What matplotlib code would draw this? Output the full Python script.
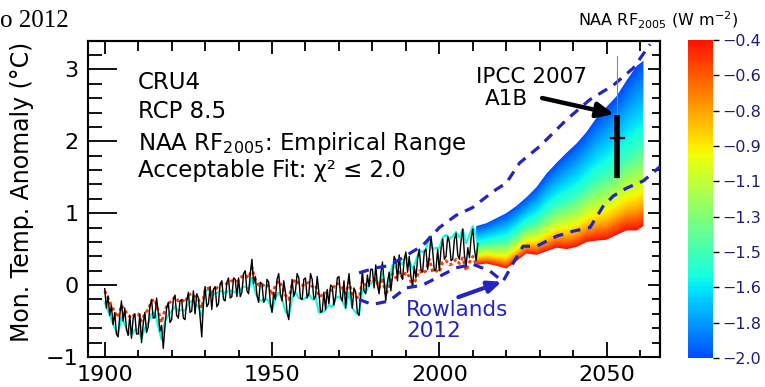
import numpy as np
import matplotlib
matplotlib.use("Agg")
import matplotlib.pyplot as plt
from matplotlib.colors import ListedColormap, Normalize
from matplotlib.patches import Polygon
from matplotlib.cm import ScalarMappable

plt.rcParams['font.family'] = ['DejaVu Sans']

# ---------------- data ----------------
# CRU4 monthly anomaly, sampled twice a year 1900.0 ... 2011.5
cru4_anom = [
    -0.05, -0.32, -0.15, -0.42, -0.28, -0.55, -0.38, -0.68, -0.72, -0.42, -0.22, -0.50, -0.32, -0.62, -0.70, -0.42, -0.74, -0.46, -0.40, -0.68,
    -0.68, -0.40, -0.80, -0.54, -0.38, -0.66, -0.58, -0.30, -0.20, -0.46, -0.45, -0.18, -0.38, -0.64, -0.56, -0.88, -0.58, -0.32, -0.24, -0.52,
    -0.48, -0.20, -0.14, -0.42, -0.46, -0.22, -0.20, -0.46, -0.48, -0.22, -0.10, -0.38, -0.36, -0.08, -0.40, -0.12, -0.18, -0.44, -0.72, -0.24,
    -0.02, -0.30, -0.26, -0.02, -0.34, -0.06, -0.02, -0.30, -0.26, 0.02, 0.06, -0.20, -0.22, 0.04, 0.10, -0.18, -0.16, 0.10, 0.08, -0.16,
    0.10, -0.16, -0.10, 0.16, 0.20, -0.08, -0.12, 0.16, 0.36, 0.02, 0.12, -0.14, -0.24, 0.04, 0.02, -0.24, -0.20, 0.08, 0.04, -0.24,
    -0.38, -0.10, -0.20, 0.08, 0.16, -0.12, -0.22, 0.06, -0.10, -0.38, -0.48, -0.16, 0.08, -0.16, -0.08, 0.16, 0.10, -0.18, -0.20, 0.08,
    0.10, -0.18, -0.12, 0.16, 0.08, -0.20, -0.16, 0.12, -0.10, -0.38, -0.36, -0.10, -0.34, -0.06, -0.26, 0.00, -0.02, -0.28, -0.16, 0.10,
    0.12, -0.16, -0.22, 0.06, -0.32, -0.04, 0.16, -0.10, -0.32, -0.04, -0.10, -0.38, -0.42, -0.12, 0.20, -0.08, -0.12, 0.14, -0.02, 0.22,
    0.22, -0.04, 0.28, 0.00, -0.12, 0.16, 0.32, 0.04, -0.22, 0.04, 0.18, -0.08, 0.12, 0.40, 0.34, 0.06, 0.42, 0.16, 0.08, 0.36,
    0.46, 0.18, 0.40, 0.12, -0.02, 0.26, 0.10, 0.36, 0.50, 0.22, 0.18, 0.46, 0.50, 0.22, 0.40, 0.68, 0.48, 0.20, 0.22, 0.50,
    0.20, 0.50, 0.64, 0.36, 0.40, 0.68, 0.60, 0.34, 0.36, 0.64, 0.72, 0.42, 0.36, 0.62, 0.78, 0.42, 0.26, 0.52, 0.38, 0.66,
    0.78, 0.50, 0.34, 0.58,
]
cru4_years = np.arange(1900, 2012, 0.5)

# model fits (yearly 1900 ... 2011)
fit_years = np.arange(1900, 2012)
fit_rf04 = [
    -0.08, -0.18, -0.28, -0.38, -0.45, -0.28, -0.35, -0.42, -0.46, -0.40,
    -0.40, -0.50, -0.40, -0.34, -0.22, -0.20, -0.36, -0.52, -0.34, -0.26,
    -0.22, -0.16, -0.22, -0.20, -0.24, -0.14, -0.12, -0.16, -0.20, -0.32,
    -0.06, -0.04, -0.10, -0.06, -0.02, 0.02, 0.00, 0.05, 0.06, 0.05,
    0.06, 0.12, 0.14, 0.10, 0.24, 0.08, 0.00, -0.02, 0.02, -0.02,
    -0.14, 0.00, 0.06, -0.02, -0.14, -0.20, 0.02, 0.08, 0.02, 0.00,
    0.00, 0.04, -0.02, 0.00, -0.16, -0.14, -0.12, -0.06, -0.08, 0.02,
    0.02, -0.04, -0.12, 0.04, -0.12, -0.16, -0.18, 0.06, 0.00, 0.06,
    0.04, 0.08, -0.04, 0.10, -0.14, -0.02, 0.16, 0.10, 0.18, 0.10,
    0.18, 0.12, -0.02, 0.08, 0.20, 0.16, 0.20, 0.36, 0.18, 0.20,
    0.18, 0.32, 0.34, 0.28, 0.30, 0.36, 0.30, 0.38, 0.20, 0.32,
    0.40, 0.28,
]
fit_rf16 = [
    -0.24, -0.36, -0.48, -0.60, -0.68, -0.44, -0.55, -0.64, -0.70, -0.62,
    -0.62, -0.74, -0.60, -0.52, -0.40, -0.38, -0.58, -0.76, -0.50, -0.42,
    -0.36, -0.30, -0.36, -0.34, -0.36, -0.26, -0.22, -0.26, -0.30, -0.44,
    -0.08, -0.06, -0.14, -0.12, -0.10, -0.08, -0.12, -0.08, -0.08, -0.10,
    -0.10, -0.04, -0.02, -0.06, 0.10, -0.10, -0.20, -0.22, -0.18, -0.22,
    -0.36, -0.18, -0.10, -0.20, -0.36, -0.44, -0.18, -0.10, -0.18, -0.20,
    -0.18, -0.12, -0.20, -0.16, -0.38, -0.38, -0.34, -0.28, -0.30, -0.18,
    -0.16, -0.22, -0.32, -0.10, -0.32, -0.38, -0.42, -0.06, -0.10, 0.00,
    0.04, 0.10, -0.02, 0.16, -0.06, 0.06, 0.28, 0.24, 0.34, 0.28,
    0.40, 0.34, 0.22, 0.34, 0.48, 0.46, 0.50, 0.68, 0.50, 0.52,
    0.52, 0.66, 0.70, 0.64, 0.68, 0.74, 0.66, 0.78, 0.58, 0.70,
    0.82, 0.66,
]

# projections for several NAA RF2005 values
proj_years = [2011, 2014, 2017, 2020, 2023, 2026, 2029, 2032, 2035, 2038, 2041, 2044, 2047, 2050, 2053, 2056, 2059, 2061]
proj_rf04 = [0.28, 0.30, 0.27, 0.23, 0.33, 0.44, 0.42, 0.47, 0.52, 0.50, 0.53, 0.60, 0.62, 0.63, 0.70, 0.76, 0.76, 0.82]
proj_rf08 = [0.36, 0.38, 0.36, 0.34, 0.44, 0.55, 0.55, 0.62, 0.69, 0.69, 0.73, 0.81, 0.86, 0.89, 0.97, 1.05, 1.08, 1.14]
proj_rf11 = [0.43, 0.46, 0.45, 0.45, 0.55, 0.66, 0.68, 0.77, 0.85, 0.88, 0.93, 1.03, 1.10, 1.15, 1.24, 1.35, 1.40, 1.46]
proj_rf15 = [0.55, 0.58, 0.60, 0.62, 0.72, 0.83, 0.89, 1.01, 1.11, 1.17, 1.25, 1.37, 1.48, 1.56, 1.67, 1.81, 1.91, 1.97]
proj_rf20 = [0.82, 0.86, 0.93, 1.00, 1.10, 1.22, 1.36, 1.55, 1.70, 1.84, 1.97, 2.13, 2.33, 2.48, 2.63, 2.85, 3.05, 3.12]
proj_rf_levels = [-0.4, -0.8, -1.1, -1.5, -2.0]

# Rowlands 2012 envelope
rowl_up_years = [1976, 1981, 1985, 1989, 1995, 2000, 2005, 2010, 2016, 2020, 2024, 2030, 2038, 2045, 2052, 2058, 2063]
rowl_up_vals = [0.17, 0.24, 0.27, 0.38, 0.55, 0.80, 0.97, 1.08, 1.30, 1.42, 1.70, 1.93, 2.30, 2.58, 2.78, 3.02, 3.35]
rowl_lo_years = [1976, 1980, 1985, 1990, 1995, 2000, 2005, 2010, 2015, 2019, 2022, 2025, 2029, 2035, 2040, 2045, 2049, 2052, 2056, 2061, 2066]
rowl_lo_vals = [-0.20, -0.27, -0.22, -0.04, 0.00, 0.12, 0.24, 0.29, 0.20, 0.05, 0.30, 0.54, 0.54, 0.68, 0.75, 0.80, 1.10, 1.24, 1.35, 1.45, 1.65]

# IPCC 2007 A1B range
ipcc_year = 2053.2
ipcc_low, ipcc_mid, ipcc_high = 1.49, 2.05, 2.37

cb_ticks = list(np.linspace(-0.4, -2.0, 10))
cb_labels = ['−0.4', '−0.6', '−0.8', '−0.9', '−1.1', '−1.3', '−1.5', '−1.6', '−1.8', '−2.0']

# ---------------- figure ----------------
fig = plt.figure(figsize=(7.65, 3.87), dpi=100)
ax = fig.add_axes([0.115, 0.0775, 0.748, 0.8175])
xmin, xmax, ymin, ymax = 1895, 2066, -1.0, 3.4

cmap = ListedColormap(plt.cm.jet(np.linspace(0.2, 0.89, 256)))
norm = Normalize(vmin=-2.0, vmax=-0.4)

# projection band as gradient image
xs = np.linspace(proj_years[0], proj_years[-1], 300)
ys = np.linspace(ymin, ymax, 600)
curves = [proj_rf04, proj_rf08, proj_rf11, proj_rf15, proj_rf20]
img = np.zeros((len(ys), len(xs)))
for j, xv in enumerate(xs):
    lv = [np.interp(xv, proj_years, c) for c in curves]
    img[:, j] = np.interp(ys, lv, proj_rf_levels)
im = ax.imshow(img, origin='lower', extent=[xs[0], xs[-1], ymin, ymax], aspect='auto',
               cmap=cmap, norm=norm, interpolation='bilinear', zorder=2)
lo = np.interp(xs, proj_years, proj_rf04)
hi = np.interp(xs, proj_years, proj_rf20)
poly = Polygon(np.column_stack([np.concatenate([xs, xs[::-1]]), np.concatenate([lo, hi[::-1]])]),
               closed=True, facecolor='none', edgecolor='none', transform=ax.transData)
ax.add_patch(poly)
im.set_clip_path(poly)

# historical fits and observations
ax.plot(fit_years, fit_rf16, color=cmap(norm(-1.6)), lw=1.5, zorder=3)
ax.plot(fit_years, fit_rf04, color=cmap(norm(-0.5)), lw=2.0, ls=(0, (1.2, 1.0)), zorder=3)
ax.plot(cru4_years, cru4_anom, color='black', lw=1.0, zorder=4)

# Rowlands envelope
dash_c = '#2424c0'
ax.plot(rowl_up_years, rowl_up_vals, color=dash_c, lw=2.3, ls=(0, (3.2, 2.4)), zorder=5)
ax.plot(rowl_lo_years, rowl_lo_vals, color=dash_c, lw=2.3, ls=(0, (3.2, 2.4)), zorder=5)

# IPCC bar
ax.plot([ipcc_year, ipcc_year], [ipcc_low, 3.18], color='#888888', lw=0.8, zorder=5)
ax.plot([ipcc_year, ipcc_year], [ipcc_low, ipcc_high], color='black', lw=4, solid_capstyle='butt', zorder=6)
ax.plot([ipcc_year - 2, ipcc_year + 2], [ipcc_mid, ipcc_mid], color='black', lw=1.6, zorder=6)
ax.annotate('', xy=(ipcc_year - 0.2, ipcc_high), xytext=(2029.9, 2.61),
            arrowprops=dict(arrowstyle='-|>,head_length=1.0,head_width=0.45', color='black', lw=3.2),
            zorder=7)
ax.text(2027.5, 2.90, 'IPCC 2007', ha='center', va='center', fontsize=15.5)
ax.text(2020.0, 2.59, 'A1B', ha='center', va='center', fontsize=15.5)

# Rowlands label
ax.text(1990.0, -0.34, 'Rowlands', color=dash_c, ha='left', va='center', fontsize=15.5)
ax.text(1990.0, -0.64, '2012', color=dash_c, ha='left', va='center', fontsize=15.5)
ax.annotate('', xy=(2019.4, 0.06), xytext=(2004.9, -0.18),
            arrowprops=dict(arrowstyle='-|>,head_length=0.8,head_width=0.35', color=dash_c, lw=3.0),
            zorder=7)

# info text
info = ['CRU4', 'RCP 8.5', 'NAA RF$_{2005}$: Empirical Range', 'Acceptable Fit: χ² ≤ 2.0']
info_y = [2.82, 2.41, 1.97, 1.59]
for s, yv in zip(info, info_y):
    ax.text(1909.8, yv, s, ha='left', va='center', fontsize=16.5)

# axes styling
ax.set_xlim(xmin, xmax)
ax.set_ylim(ymin, ymax)
ax.set_xticks([1900, 1950, 2000, 2050])
ax.set_xticks(np.arange(1900, 2061, 10), minor=True)
ax.set_yticks([-1, 0, 1, 2, 3])
ax.set_yticklabels(['−1', '0', '1', '2', '3'])
ax.set_yticks(np.arange(-1.0, 3.41, 0.2), minor=True)
ax.tick_params(axis='x', which='major', direction='in', length=10.5, width=1.3, labelsize=16, pad=6)
ax.tick_params(axis='x', which='minor', direction='in', length=5, width=1.3)
ax.tick_params(axis='y', which='major', direction='in', length=21, width=1.3, labelsize=16, pad=7)
ax.tick_params(axis='y', which='minor', direction='in', length=10, width=1.3)
for sp in ax.spines.values():
    sp.set_linewidth(1.5)

secx = ax.secondary_xaxis('top')
secx.set_xticks([1900, 1950, 2000, 2050])
secx.set_xticks(np.arange(1900, 2061, 10), minor=True)
secx.tick_params(axis='x', which='major', direction='in', length=9, width=1.3, labeltop=False)
secx.tick_params(axis='x', which='minor', direction='in', length=7, width=1.3)
secx.spines['top'].set_linewidth(1.5)

secy = ax.secondary_yaxis('right')
secy.set_yticks([-1, 0, 1, 2, 3])
secy.set_yticks(np.arange(-1.0, 3.41, 0.2), minor=True)
secy.tick_params(axis='y', which='major', direction='in', length=9, width=1.3, labelright=False)
secy.tick_params(axis='y', which='minor', direction='in', length=6, width=1.3)
secy.spines['right'].set_linewidth(1.5)

fig.text(0.029, 0.505, 'Mon. Temp. Anomaly (°C)', rotation=90, ha='center', va='center', fontsize=17)

# colorbar
cax = fig.add_axes([0.899, 0.075, 0.033, 0.822])
cb = fig.colorbar(ScalarMappable(norm=norm, cmap=cmap), cax=cax, ticks=cb_ticks)
cb.ax.set_yticklabels(cb_labels)
cb.outline.set_visible(False)
cb.ax.tick_params(direction='out', length=4, width=1, labelsize=11.5, pad=3, labelcolor='#1c1c7a')
fig.text(0.86, 0.948, 'NAA RF$_{2005}$ (W m$^{-2}$)', ha='center', va='center', fontsize=11.5)

# header text (partially shown in the source)
fig.text(0.0, 0.931, 'o 2012', ha='left', va='baseline', fontsize=18, family='Liberation Serif')

fig.savefig('out.png', dpi=100)
